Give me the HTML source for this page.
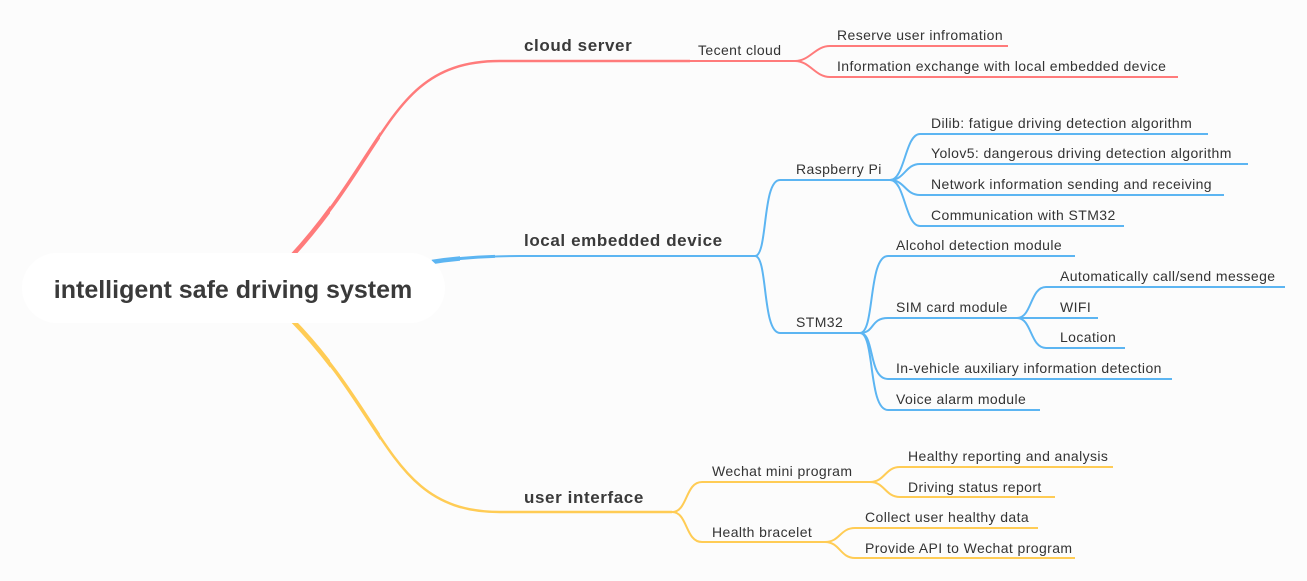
<!DOCTYPE html>
<html><head><meta charset="utf-8"><style>
html,body{margin:0;padding:0;background:#fcfcfc;}
svg{display:block;}
text{font-family:"Liberation Sans","DejaVu Sans",sans-serif;fill:#333;}
.t{font-size:14px;letter-spacing:0.4px;}
.b{font-size:17px;font-weight:bold;fill:#3a3a3a;letter-spacing:0.6px;}
.r{stroke:#ff7b7b;fill:none;stroke-width:2;}
.u{stroke:#5cb5f2;fill:none;stroke-width:2;}
.y{stroke:#ffcc55;fill:none;stroke-width:2;}
</style></head><body>
<svg width="1307" height="581" viewBox="0 0 1307 581" xmlns="http://www.w3.org/2000/svg">
<defs>
<clipPath id="c1"><rect x="0" y="0" width="330" height="581"/></clipPath>
<clipPath id="c1b"><rect x="0" y="0" width="380" height="581"/></clipPath>
<clipPath id="c2"><rect x="0" y="0" width="460" height="581"/></clipPath>
<clipPath id="c2b"><rect x="0" y="0" width="495" height="581"/></clipPath>
</defs>
<rect width="1307" height="581" fill="#fcfcfc"/>
<!-- main branches -->
<path d="M290,258 C390,150 390,61 500,61 L690,61" stroke="#ff7b7b" fill="none" stroke-width="2.5"/>
<path d="M290,258 C390,150 390,61 500,61" stroke="#ff7b7b" fill="none" stroke-width="3.5" clip-path="url(#c1b)"/>
<path d="M290,258 C390,150 390,61 500,61" stroke="#ff7b7b" fill="none" stroke-width="4.5" clip-path="url(#c1)"/>
<path d="M432,262 Q470,256 520,256 L755,256" class="u"/>
<path d="M432,262 Q470,256 520,256" stroke="#5cb5f2" fill="none" stroke-width="3" clip-path="url(#c2b)"/>
<path d="M432,262 Q470,256 520,256" stroke="#5cb5f2" fill="none" stroke-width="4.5" clip-path="url(#c2)"/>
<path d="M292,320 C390,420 390,512 500,512 L672,512" stroke="#ffcc55" fill="none" stroke-width="2.5"/>
<path d="M292,320 C390,420 390,512 500,512" stroke="#ffcc55" fill="none" stroke-width="3.5" clip-path="url(#c1b)"/>
<path d="M292,320 C390,420 390,512 500,512" stroke="#ffcc55" fill="none" stroke-width="4.5" clip-path="url(#c1)"/>
<!-- root -->
<rect x="22" y="253" width="423" height="70" rx="35" fill="#ffffff"/>
<text x="233" y="298" text-anchor="middle" style="font-size:25px;font-weight:bold;fill:#3a3a3a">intelligent safe driving system</text>
<text x="524" y="51" class="b">cloud server</text>
<text x="524" y="246" class="b">local embedded device</text>
<text x="524" y="503" class="b">user interface</text>
<!-- cloud -->
<path d="M690,61 L795,61" class="r"/>
<path d="M795,61 C810,61 815,46 830,46 L1008,46" class="r"/>
<path d="M795,61 C810,61 815,77 830,77 L1178,77" class="r"/>
<text x="698" y="55" class="t">Tecent cloud</text>
<text x="837" y="40" class="t">Reserve user infromation</text>
<text x="837" y="71" class="t">Information exchange with local embedded device</text>
<!-- local -->
<path d="M755,256 C768,256 762,180 780,180 L890,180" class="u"/>
<path d="M755,256 C768,256 762,333 780,333 L860,333" class="u"/>
<text x="796" y="174" class="t">Raspberry Pi</text>
<text x="796" y="327" class="t">STM32</text>
<path d="M890,180 C905,180 905,134 920,134 L1208,134" class="u"/>
<path d="M890,180 C905,180 905,164 920,164 L1248,164" class="u"/>
<path d="M890,180 C905,180 905,195 920,195 L1224,195" class="u"/>
<path d="M890,180 C905,180 905,226 920,226 L1124,226" class="u"/>
<text x="931" y="128" class="t">Dilib: fatigue driving detection algorithm</text>
<text x="931" y="158" class="t">Yolov5: dangerous driving detection algorithm</text>
<text x="931" y="189" class="t">Network information sending and receiving</text>
<text x="931" y="220" class="t">Communication with STM32</text>
<path d="M860,333 C875,333 868,256 888,256 L1075,256" class="u"/>
<path d="M860,333 C875,333 870,318 888,318 L1017,318" class="u"/>
<path d="M860,333 C875,333 868,379 888,379 L1172,379" class="u"/>
<path d="M860,333 C875,333 868,410 888,410 L1040,410" class="u"/>
<text x="896" y="250" class="t">Alcohol detection module</text>
<text x="896" y="312" class="t">SIM card module</text>
<text x="896" y="373" class="t">In-vehicle auxiliary information detection</text>
<text x="896" y="404" class="t">Voice alarm module</text>
<path d="M1017,318 C1032,318 1030,287 1046,287 L1285,287" class="u"/>
<path d="M1017,318 L1098,318" class="u"/>
<path d="M1017,318 C1032,318 1030,348 1046,348 L1125,348" class="u"/>
<text x="1060" y="281" class="t">Automatically call/send messege</text>
<text x="1060" y="312" class="t">WIFI</text>
<text x="1060" y="342" class="t">Location</text>
<!-- user -->
<path d="M672,512 C688,512 685,482 702,482 L870,482" class="y"/>
<path d="M672,512 C688,512 685,542 702,542 L825,542" class="y"/>
<text x="712" y="476" class="t">Wechat mini program</text>
<text x="712" y="537" class="t">Health bracelet</text>
<path d="M870,482 C885,482 885,467 900,467 L1113,467" class="y"/>
<path d="M870,482 C885,482 885,497 900,497 L1055,497" class="y"/>
<text x="908" y="461" class="t">Healthy reporting and analysis</text>
<text x="908" y="492" class="t">Driving status report</text>
<path d="M825,542 C840,542 840,528 855,528 L1038,528" class="y"/>
<path d="M825,542 C840,542 840,558 855,558 L1075,558" class="y"/>
<text x="865" y="522" class="t">Collect user healthy data</text>
<text x="865" y="553" class="t">Provide API to Wechat program</text>
</svg>
</body></html>
